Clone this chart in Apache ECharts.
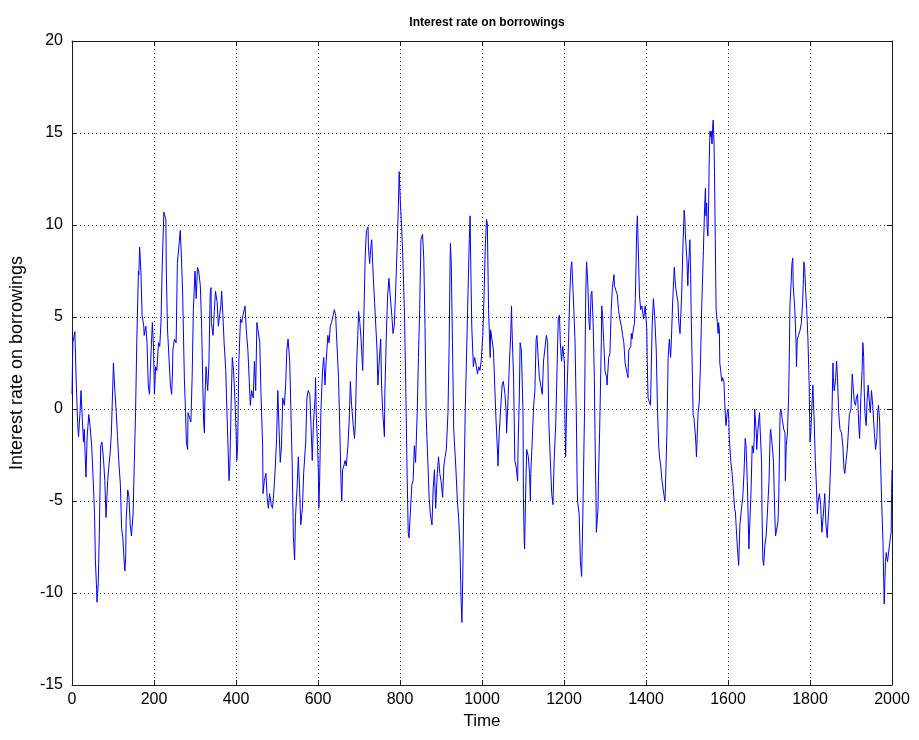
<!DOCTYPE html>
<html>
<head>
<meta charset="utf-8">
<script src="https://cdn.jsdelivr.net/npm/echarts@6/dist/echarts.min.js"></script>
<style>
  html, body { margin: 0; padding: 0; background: #ffffff; }
  #chart { width: 919px; height: 740px; }
</style>
</head>
<body>
<div id="chart"></div>
<script>
// Sample times (x) and the matching interest-rate readings (y), in blocks of ten.
const time = [
  0,2,7,10,14,16,20,22,25,28,
  30,33,34,37,41,44,48,51,55,57,
  60,61,64,67,70,73,77,80,83,87,
  90,93,96,100,101,104,108,111,114,118,
  121,124,127,129,131,132,136,139,142,145,
  149,152,155,158,162,163,165,168,171,175,
  176,180,183,186,189,193,196,199,201,204,
  207,211,214,217,220,224,227,229,230,233,
  237,240,243,245,246,250,254,257,264,267,
  270,274,277,279,282,283,287,290,293,296,
  300,303,306,309,313,316,319,321,323,324,
  327,331,334,337,339,340,344,347,350,354,
  357,360,363,365,368,371,375,378,381,383,
  385,388,391,394,398,400,402,404,407,411,
  414,417,422,425,429,432,435,438,442,445,
  448,451,455,458,461,465,466,469,473,476,
  479,482,486,489,492,496,499,502,505,508,
  511,514,518,521,524,527,531,534,537,540,
  543,545,549,552,555,558,562,565,570,573,
  576,580,583,586,589,593,594,596,599,601,
  602,604,607,611,614,617,620,624,627,630,
  633,637,640,643,646,650,653,656,658,660,
  663,666,669,673,676,679,682,686,689,691,
  694,697,699,702,705,709,712,715,718,722,
  723,726,728,731,735,738,741,744,746,749,
  753,755,758,762,763,767,770,773,776,780,
  783,786,789,793,796,798,799,801,804,807,
  811,814,817,820,822,825,829,832,835,838,
  842,845,848,851,855,858,861,864,868,871,
  874,878,881,884,887,891,894,897,900,904,
  907,910,913,917,920,922,923,925,928,931,
  936,940,943,946,948,949,951,953,956,959,
  962,966,969,971,972,975,979,982,985,989,
  992,995,998,1002,1005,1008,1011,1013,1016,1020,
  1021,1025,1028,1031,1034,1038,1039,1042,1046,1049,
  1052,1056,1059,1060,1064,1067,1070,1072,1073,1077,
  1080,1083,1087,1088,1091,1093,1096,1100,1101,1103,
  1104,1106,1109,1113,1116,1118,1119,1122,1126,1129,
  1132,1134,1137,1140,1144,1147,1150,1153,1157,1160,
  1163,1166,1170,1173,1176,1180,1183,1186,1189,1191,
  1194,1197,1201,1202,1204,1207,1211,1214,1217,1219,
  1220,1224,1227,1230,1232,1233,1237,1240,1243,1246,
  1250,1253,1255,1258,1261,1263,1266,1268,1271,1274,
  1276,1278,1279,1283,1284,1287,1291,1292,1294,1297,
  1300,1304,1305,1309,1312,1315,1318,1322,1323,1327,
  1330,1333,1336,1340,1343,1346,1349,1353,1356,1358,
  1361,1363,1364,1366,1369,1372,1374,1376,1377,1379,
  1380,1382,1384,1387,1390,1394,1397,1398,1402,1403,
  1405,1408,1411,1415,1418,1421,1425,1428,1431,1433,
  1436,1439,1442,1446,1447,1451,1454,1457,1460,1462,
  1465,1469,1472,1475,1478,1480,1483,1487,1490,1493,
  1495,1496,1500,1502,1504,1505,1507,1509,1510,1512,
  1514,1515,1517,1520,1522,1523,1527,1530,1533,1536,
  1540,1543,1545,1546,1548,1549,1551,1553,1554,1556,
  1558,1559,1561,1563,1564,1566,1567,1569,1571,1574,
  1576,1577,1579,1580,1582,1585,1587,1590,1592,1594,
  1595,1598,1600,1602,1603,1607,1610,1613,1616,1618,
  1620,1623,1626,1629,1633,1636,1639,1642,1644,1647,
  1651,1652,1656,1659,1662,1664,1665,1669,1670,1673,
  1677,1678,1682,1683,1685,1687,1690,1693,1696,1700,
  1703,1704,1708,1711,1714,1716,1719,1722,1724,1727,
  1729,1732,1736,1739,1740,1742,1745,1748,1750,1751,
  1754,1756,1758,1759,1763,1766,1767,1769,1772,1776,
  1779,1782,1784,1785,1787,1789,1792,1795,1797,1798,
  1800,1802,1803,1807,1808,1810,1813,1816,1818,1820,
  1823,1826,1829,1833,1836,1839,1842,1844,1847,1851,
  1854,1856,1857,1859,1862,1865,1867,1870,1873,1877,
  1880,1883,1885,1888,1891,1895,1896,1900,1903,1905,
  1908,1911,1913,1916,1919,1921,1924,1927,1929,1931,
  1932,1934,1937,1939,1942,1944,1947,1950,1953,1957,
  1960,1963,1965,1967,1970,1971,1975,1978,1980,1981,
  1984,1986,1989,1993,1996,1998,1999,2000
];

const rate = [
  0.8,3.6,4.2,1.7,-0.9,-1.5,0.0,1.0,-0.5,-1.8,
  -1.1,-3.1,-3.7,-1.5,-0.3,-0.9,-2.0,-3.5,-5.7,-8.2,
  -9.8,-10.5,-9.5,-6.3,-2.0,-1.8,-2.8,-3.9,-5.9,-3.9,
  -3.1,-2.4,-1.3,1.7,2.5,1.2,-0.2,-1.5,-2.8,-4.1,
  -6.5,-7.0,-8.2,-8.8,-8.0,-6.1,-4.4,-4.8,-6.3,-6.9,
  -5.7,-2.9,-0.2,3.6,7.5,7.3,8.8,7.5,5.1,4.5,
  4.0,4.5,3.6,1.3,0.8,3.2,4.7,3.2,0.8,2.3,
  2.1,3.6,3.4,4.7,7.7,10.7,10.8,10.3,7.5,4.3,
  2.6,1.3,0.8,1.9,3.2,3.8,3.6,7.9,9.7,8.2,
  6.2,1.7,-0.2,-1.8,-2.2,-0.2,-0.2,-0.7,1.7,5.4,
  7.5,6.0,7.7,7.5,6.7,4.7,1.3,-0.7,-1.3,0.4,
  2.3,1.0,2.5,6.2,6.6,4.7,4.0,5.3,6.4,5.8,
  4.5,5.1,5.6,6.4,5.1,3.6,2.1,-0.2,-2.4,-3.9,
  -3.1,0.2,2.8,2.1,0.2,-1.1,-2.8,-2.0,2.6,4.9,
  4.7,5.1,5.6,4.3,3.2,1.7,0.2,1.0,0.6,2.6,
  1.0,4.7,4.7,3.6,0.8,-2.0,-4.6,-3.9,-3.5,-4.8,
  -5.4,-4.6,-5.2,-5.4,-4.6,-3.1,-1.6,1.0,-1.1,-2.9,
  -2.0,0.6,0.2,1.3,3.2,3.8,2.6,-0.2,-2.9,-7.0,
  -8.2,-5.9,-4.3,-2.6,-4.3,-6.3,-5.4,-3.5,-1.8,0.6,
  1.0,0.8,-0.9,-2.8,-0.7,0.6,1.7,-0.5,-2.0,-3.5,
  -5.4,-3.9,-0.2,2.1,2.8,1.3,2.6,4.0,3.6,4.5,
  4.7,5.1,5.4,5.1,3.6,1.7,-0.9,-3.9,-5.0,-3.3,
  -3.1,-2.8,-3.1,-2.0,-0.7,1.5,0.2,-0.9,-1.6,-0.9,
  2.3,4.0,5.3,4.7,3.8,2.1,5.1,8.2,9.7,9.9,
  8.8,7.9,8.6,9.2,7.1,5.8,4.5,3.2,1.3,2.5,
  3.8,1.3,-0.2,-1.5,0.8,4.3,6.2,7.1,6.2,5.1,
  4.1,4.5,6.2,8.8,11.0,12.9,12.3,11.2,9.9,8.2,
  5.1,1.3,-3.1,-6.7,-7.0,-5.7,-4.1,-3.9,-2.0,-2.9,
  -0.2,2.8,5.4,9.2,9.5,8.2,4.5,-0.5,-2.9,-4.8,
  -5.7,-6.3,-4.3,-3.3,-5.4,-3.5,-2.6,-3.5,-3.9,-4.8,
  -3.1,-2.6,-2.2,-0.2,3.6,7.7,9.0,7.9,3.6,-1.1,
  -3.1,-5.0,-5.9,-7.4,-9.3,-10.4,-11.6,-9.3,-4.3,-0.2,
  2.6,6.4,9.2,10.5,8.8,4.5,2.3,2.8,2.5,1.9,
  2.3,2.1,2.6,4.0,6.2,8.8,10.3,10.1,5.4,2.8,
  4.3,4.3,3.2,1.3,-0.5,-2.4,-3.1,-1.3,0.2,1.3,
  1.5,0.8,-0.2,-1.3,0.8,2.6,4.0,5.6,4.5,1.7,
  -2.8,-3.1,-3.9,-2.0,0.6,3.6,3.2,-0.2,-4.8,-7.2,
  -7.6,-5.0,-2.2,-2.6,-3.5,-5.0,-3.5,-2.0,0.2,1.0,
  3.8,4.0,2.8,1.7,1.2,0.8,2.6,3.2,4.0,3.6,
  -0.7,-2.4,-4.6,-5.2,-2.8,-0.7,2.1,4.9,5.1,3.6,
  2.6,3.4,2.5,-0.2,-2.6,0.6,3.6,6.2,7.7,8.0,
  7.5,5.4,3.6,-0.2,-3.9,-5.0,-5.7,-8.3,-9.1,-5.7,
  -0.2,6.2,8.0,6.9,4.7,4.3,6.2,6.4,4.7,1.7,
  -2.0,-4.8,-6.7,-5.4,-3.9,-1.1,3.6,5.6,5.1,3.6,
  2.1,1.7,1.3,2.8,3.0,5.3,6.6,7.3,6.7,6.7,
  6.2,5.4,4.9,4.5,4.0,3.6,2.5,2.5,1.7,3.2,
  3.2,3.4,4.1,3.8,4.3,4.7,6.0,8.2,9.5,10.5,
  9.7,8.0,6.2,5.4,5.6,4.9,4.9,5.6,4.3,2.6,
  0.6,0.4,0.2,4.5,6.0,5.1,3.2,0.0,-2.0,-2.6,
  -3.1,-3.9,-4.4,-5.0,-4.6,-1.3,2.8,3.8,2.8,3.8,
  5.8,7.7,6.7,6.2,5.8,4.7,4.1,6.2,8.8,10.8,
  10.3,9.5,8.0,6.7,8.0,8.2,9.2,7.3,5.4,3.2,
  0.8,-0.3,-0.5,-1.3,-2.0,-2.6,-0.2,0.4,2.6,5.6,
  8.6,11.0,12.0,10.5,11.2,9.9,9.4,11.4,13.3,15.1,
  14.8,15.1,14.4,15.5,15.7,14.4,12.9,9.2,5.4,4.7,
  4.1,4.7,4.3,2.5,2.1,1.5,1.7,1.5,0.4,-0.5,
  -0.9,-0.2,0.0,-0.5,-1.5,-2.9,-3.5,-4.4,-5.4,-5.6,
  -5.7,-7.6,-8.5,-6.3,-5.4,-4.8,-3.5,-1.6,-2.0,-3.9,
  -7.6,-6.9,-4.6,-2.0,-2.4,-1.6,0.0,-1.3,-2.2,-1.1,
  -0.2,-0.9,-2.9,-5.7,-8.2,-8.5,-7.4,-6.9,-5.7,-3.9,
  -1.3,-1.1,-2.0,-2.9,-5.7,-6.9,-7.0,-6.1,-4.6,-0.2,
  0.0,-0.5,-1.1,-1.3,-3.9,-2.0,-1.3,0.8,3.6,5.6,
  6.9,7.9,8.2,6.7,5.4,3.6,2.3,3.8,4.0,4.3,
  4.7,5.8,7.1,8.0,7.7,6.6,5.4,3.8,2.1,1.3,
  -1.8,-1.3,-0.7,1.3,0.6,-0.5,-2.8,-4.4,-5.7,-5.0,
  -4.6,-5.2,-6.7,-5.6,-4.6,-6.3,-7.0,-6.1,-5.0,-2.6,
  0.2,2.5,1.7,1.0,1.5,2.6,1.7,-0.2,-1.1,-1.3,
  -2.0,-3.3,-3.5,-2.8,-2.2,-0.7,-0.3,0.0,1.9,1.3,
  0.4,0.2,0.6,0.8,-0.9,-1.6,0.6,2.1,3.6,2.8,
  1.2,-0.2,-0.9,0.4,1.3,0.6,-0.2,1.0,0.2,-1.3,
  -2.2,-1.6,-0.2,0.2,-0.7,-2.0,-5.2,-7.2,-9.5,-10.6,
  -8.3,-7.8,-8.3,-8.2,-7.0,-6.7,-4.6,-3.3
];

// Axis ranges and tick spacing
const xRange = { min: 0, max: 2000, step: 200 };
const yRange = { min: -15, max: 20, step: 5 };

const chartTitle = 'Interest rate on borrowings';
const xName = 'Time';
const yName = 'Interest rate on borrowings';

const points = time.map((t, i) => [t, rate[i]]);

const FONT = '"Liberation Sans", Arial, Helvetica, sans-serif';
const AXIS_COLOR = '#1a1a1a';

const dotted = { show: true, lineStyle: { color: '#3a3a3a', type: [1, 3], width: 1 } };
const insideTicks = { show: true, inside: true, length: 5, lineStyle: { color: AXIS_COLOR, width: 1 } };
const axisLine = { show: true, onZero: false, lineStyle: { color: AXIS_COLOR, width: 1 } };
const plainNumber = v => String(v);

const chart = echarts.init(document.getElementById('chart'), null, { renderer: 'canvas' });

chart.setOption({
  animation: false,
  backgroundColor: '#ffffff',
  title: {
    text: chartTitle,
    left: 482,
    top: 12,
    textAlign: 'center',
    textStyle: { fontFamily: FONT, fontSize: 12, fontWeight: 'bold', color: '#000' }
  },
  grid: { left: 71, right: 27, top: 41, bottom: 55, containLabel: false },
  xAxis: [
    {
      type: 'value', min: xRange.min, max: xRange.max, interval: xRange.step,
      position: 'bottom',
      name: xName, nameLocation: 'middle', nameGap: 27,
      nameTextStyle: { fontFamily: FONT, fontSize: 17, color: '#000' },
      axisLine: axisLine, axisTick: insideTicks,
      axisLabel: { fontFamily: FONT, fontSize: 16, color: '#000', margin: 7, formatter: plainNumber },
      splitLine: dotted
    },
    {
      type: 'value', min: xRange.min, max: xRange.max, interval: xRange.step,
      position: 'top',
      axisLine: axisLine, axisTick: insideTicks,
      axisLabel: { show: false }, splitLine: { show: false }
    }
  ],
  yAxis: [
    {
      type: 'value', min: yRange.min, max: yRange.max, interval: yRange.step,
      position: 'left',
      name: yName, nameLocation: 'middle', nameGap: 46, nameRotate: 90,
      nameTextStyle: { fontFamily: FONT, fontSize: 18, color: '#000' },
      axisLine: axisLine, axisTick: insideTicks,
      axisLabel: { fontFamily: FONT, fontSize: 16, color: '#000', margin: 9, formatter: plainNumber },
      splitLine: dotted
    },
    {
      type: 'value', min: yRange.min, max: yRange.max, interval: yRange.step,
      position: 'right',
      axisLine: axisLine, axisTick: insideTicks,
      axisLabel: { show: false }, splitLine: { show: false }
    }
  ],
  series: [
    {
      type: 'line',
      xAxisIndex: 0, yAxisIndex: 0,
      data: points,
      showSymbol: false,
      symbol: 'none',
      lineStyle: { color: '#0000ff', width: 1 },
      z: 3
    }
  ]
});
</script>
</body>
</html>
